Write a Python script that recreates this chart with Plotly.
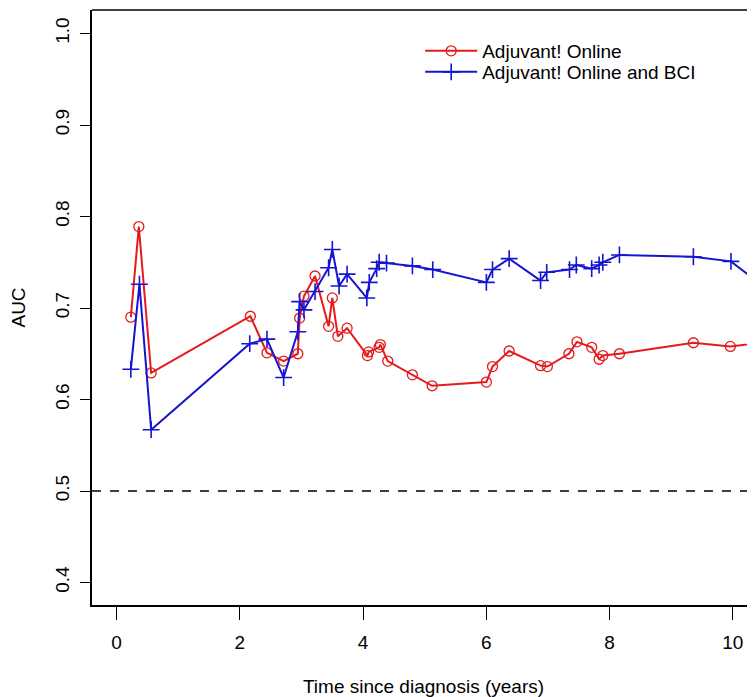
import plotly.graph_objects as go

# Data
x_ao = [0.23, 0.36, 0.56, 2.17, 2.44, 2.71, 2.94, 2.97, 3.04, 3.22, 3.44, 3.50, 3.59, 3.74,
        4.07, 4.09, 4.26, 4.28, 4.40, 4.80, 5.12, 6.00, 6.10, 6.37, 6.88, 6.99, 7.34, 7.47,
        7.71, 7.83, 7.89, 8.16, 9.36, 9.96, 10.6]
y_ao = [0.690, 0.789, 0.629, 0.691, 0.651, 0.642, 0.650, 0.689, 0.713, 0.735, 0.680, 0.711,
        0.669, 0.678, 0.648, 0.652, 0.657, 0.660, 0.642, 0.627, 0.615, 0.619, 0.636, 0.653,
        0.637, 0.636, 0.650, 0.663, 0.657, 0.644, 0.648, 0.650, 0.662, 0.658, 0.663]

x_bci = [0.23, 0.37, 0.56, 2.16, 2.44, 2.71, 2.94, 2.97, 3.04, 3.22, 3.44, 3.50, 3.61, 3.74,
         4.06, 4.10, 4.22, 4.26, 4.38, 4.80, 5.13, 6.00, 6.10, 6.37, 6.88, 6.98, 7.35, 7.46,
         7.71, 7.83, 7.89, 8.16, 9.36, 9.97, 10.6]
y_bci = [0.633, 0.726, 0.567, 0.661, 0.666, 0.624, 0.674, 0.707, 0.698, 0.718, 0.744, 0.764,
         0.724, 0.737, 0.711, 0.728, 0.743, 0.750, 0.749, 0.746, 0.742, 0.728, 0.742, 0.754,
         0.730, 0.739, 0.742, 0.747, 0.743, 0.747, 0.750, 0.758, 0.756, 0.751, 0.718]

x_ticks = [0, 2, 4, 6, 8, 10]
y_ticks = [0.4, 0.5, 0.6, 0.7, 0.8, 0.9, 1.0]
y_tick_labels = ["0.4", "0.5", "0.6", "0.7", "0.8", "0.9", "1.0"]
ref_level = 0.5

RED = "#e41a1c"
BLUE = "#1414d2"
FONT = "Liberation Sans, Arial, sans-serif"
FS = 19

fig = go.Figure()
fig.add_trace(go.Scatter(
    x=x_ao, y=y_ao, mode="lines+markers", name="Adjuvant! Online",
    line=dict(color=RED, width=2),
    marker=dict(symbol="circle-open", size=10, color=RED, line=dict(width=1.3, color=RED)),
    legend="legend",
))
fig.add_trace(go.Scatter(
    x=x_bci, y=y_bci, mode="lines+markers", name="Adjuvant! Online and BCI",
    line=dict(color=BLUE, width=2),
    marker=dict(symbol="cross-thin-open", size=12, color=BLUE, line=dict(width=1.6, color=BLUE)),
    legend="legend2",
))

fig.add_hline(y=ref_level, line=dict(color="black", width=1.3, dash="dash"))
# top border of the box
fig.add_shape(type="line", xref="paper", yref="paper", x0=0, x1=1, y0=1, y1=1,
              line=dict(color="black", width=1.5))

leg_common = dict(x=0.495, xanchor="left", yanchor="top", bgcolor="rgba(0,0,0,0)",
                  font=dict(size=FS, family=FONT), itemwidth=52)

fig.update_layout(
    width=747, height=689,
    margin=dict(l=84, r=0, t=2, b=92),
    paper_bgcolor="white", plot_bgcolor="white",
    font=dict(family=FONT, size=FS, color="black"),
    showlegend=True,
    legend=dict(y=0.963, **leg_common),
    legend2=dict(y=0.9277, **leg_common),
    xaxis=dict(range=[-0.40, 10.36], tickvals=x_ticks, showgrid=False, zeroline=False,
               showline=True, linecolor="black", linewidth=1.5,
               ticks="outside", ticklen=13, tickwidth=1.3, tickcolor="black",
               tickfont=dict(size=FS), ticklabelstandoff=6,
               title=dict(text="Time since diagnosis (years)", font=dict(size=FS), standoff=29)),
    yaxis=dict(range=[0.3754, 1.0257], tickvals=y_ticks, ticktext=y_tick_labels,
               showgrid=False, zeroline=False,
               showline=True, linecolor="black", linewidth=1.5,
               ticks="outside", ticklen=10, tickwidth=1.3, tickcolor="black",
               tickangle=-90, tickfont=dict(size=FS), ticklabelstandoff=4,
               title=dict(text="AUC", font=dict(size=FS), standoff=24)),
)

fig.write_html("out.html")
